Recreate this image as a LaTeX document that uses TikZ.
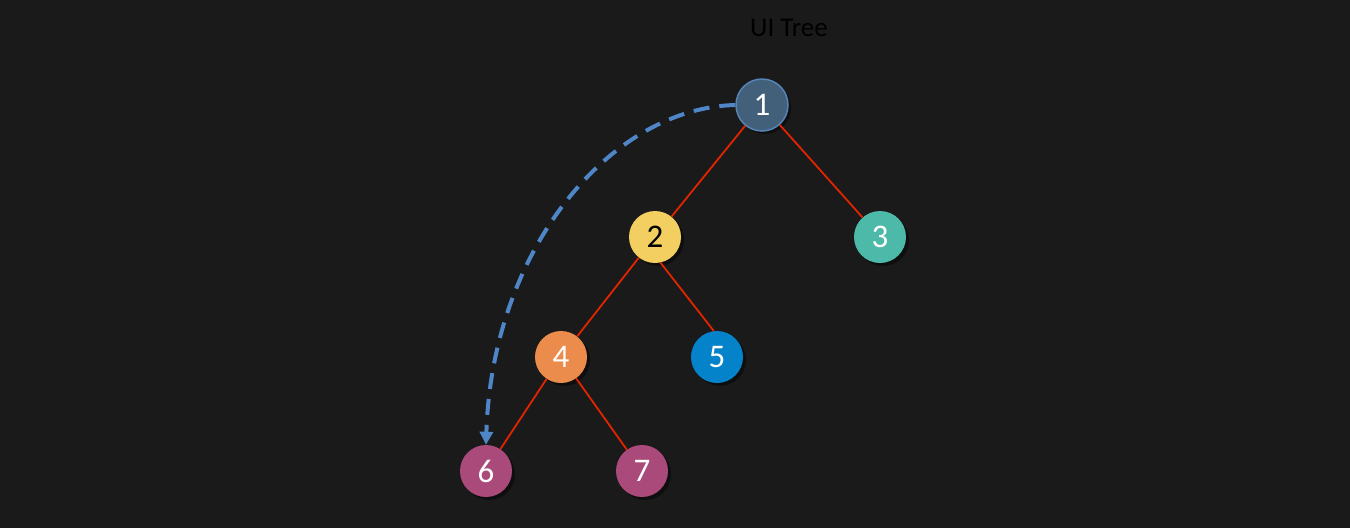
\documentclass[tikz,border=0pt]{standalone}
\usepackage{fontspec}
\setmainfont{Carlito}
\usetikzlibrary{arrows.meta,shadows}
\definecolor{bg}{HTML}{1A1A1A}
\definecolor{cOne}{HTML}{43607A}
\definecolor{cOneB}{HTML}{5585B8}
\definecolor{cTwo}{HTML}{F2CF60}
\definecolor{cThree}{HTML}{4DB9A9}
\definecolor{cFour}{HTML}{EC8C4C}
\definecolor{cFive}{HTML}{0482CA}
\definecolor{cSix}{HTML}{AA4A7A}
\definecolor{edgered}{HTML}{E22400}
\definecolor{dashblue}{HTML}{4F86C8}
\begin{document}
\begin{tikzpicture}[x=1pt,y=-1pt,
  tn/.style={circle,minimum size=52pt,inner sep=0pt,font=\fontsize{33}{35}\selectfont,text=white,
    drop shadow={shadow xshift=3pt,shadow yshift=-3pt,opacity=0.45,fill=black}},
  tedge/.style={draw=edgered,line width=1.8pt},
  jump/.style={draw=dashblue,line width=4pt,dash pattern=on 16pt off 10pt,-{Triangle[length=13pt,width=13pt]}}]
\fill[bg] (0,0) rectangle (1350,528);
\useasboundingbox (0,0) rectangle (1350,528);
\node[font=\fontsize{27}{29}\selectfont,text=black] (title) at (789,28) {UI Tree};
\node[tn,fill=cOne,draw=cOneB,line width=1.5pt] (n1) at (762,105) {1};
\node[tn,fill=cTwo,text=black] (n2) at (655,237) {2};
\node[tn,fill=cThree] (n3) at (880,237) {3};
\node[tn,fill=cFour] (n4) at (561,357) {4};
\node[tn,fill=cFive] (n5) at (717,357) {5};
\node[tn,fill=cSix] (n6) at (486,471) {6};
\node[tn,fill=cSix] (n7) at (642,471) {7};
\draw[tedge] (n1) -- (n2);
\draw[tedge] (n1) -- (n3);
\draw[tedge] (n2) -- (n4);
\draw[tedge] (n2.-78) -- (n5.97);
\draw[tedge] (n4) -- (n6);
\draw[tedge] (n4) -- (n7);
\draw[jump] (n1.west) .. controls (610,108) and (492,250) .. (n6.north);
\end{tikzpicture}
\end{document}
